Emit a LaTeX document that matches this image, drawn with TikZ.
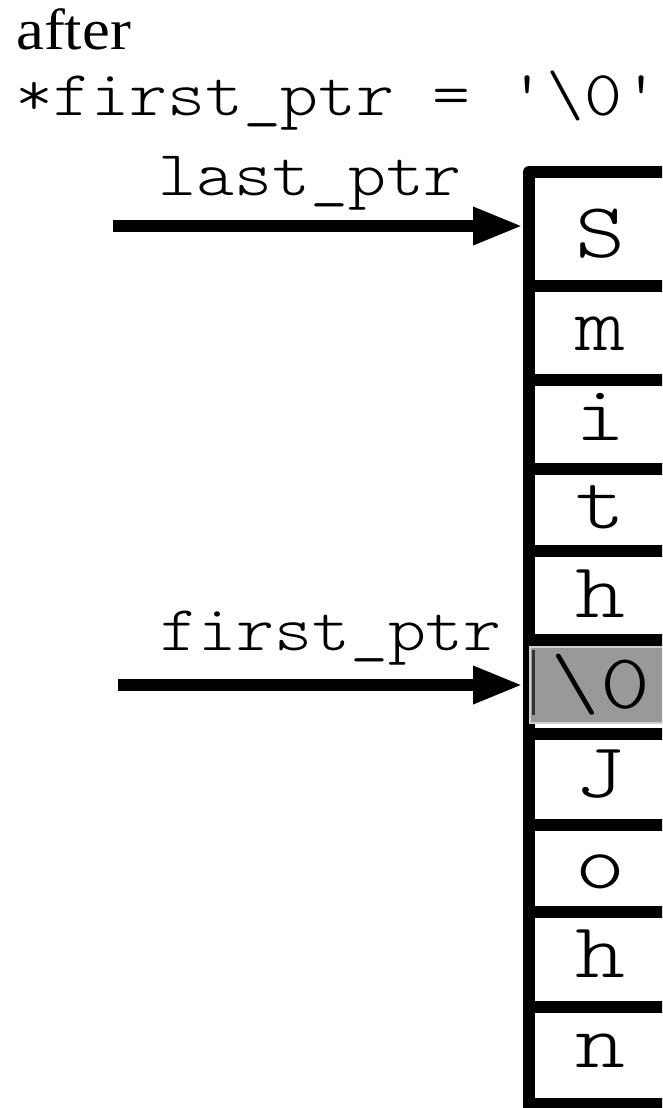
\documentclass[tikz,border=0pt]{standalone}
\usepackage{fontspec}
\setmainfont{Liberation Serif}
\newfontfamily\afterf[FakeStretch=1.08]{Liberation Serif}
\newfontfamily\monof[Ligatures=TeXOff,FakeStretch=1.13]{Latin Modern Mono Light}
\newfontfamily\cellf[Ligatures=TeXOff,FakeStretch=1.22]{Latin Modern Mono Light}
\usetikzlibrary{arrows.meta}
\definecolor{boxgray}{HTML}{999999}
\definecolor{boxedge}{HTML}{CFCFCF}
\definecolor{cursorgray}{HTML}{333333}
\begin{document}
\begin{tikzpicture}[x=1pt,y=-1pt,
  frame/.style={line width=12pt},
  ptr/.style={line width=12pt,-{Triangle[length=50pt,width=35pt]}},
  codetext/.style={font=\monof\fontsize{64}{70}\selectfont, inner sep=0pt, anchor=base west},
  letter/.style={font=\cellf\fontsize{78}{86}\selectfont, inner sep=0pt, anchor=base},
  rowcell/.style={minimum width=160pt, inner sep=0pt, anchor=north west}]

\path[use as bounding box] (0,0) rectangle (662,1108);
\clip (0,0) rectangle (662,1108);

% row cells (invisible) of the array
\foreach \i/\top/\bot in {1/172/286,2/286/380,3/380/469,4/469/551,5/551/640,
                          6/640/734,7/734/825,8/825/912,9/912/1007,10/1007/1104}
  \node[rowcell, minimum height={(\bot-\top)*1pt}] (row\i) at (523,\top) {};

% frame
\draw[frame, line join=round] (690,172) -- (529,172) -- (529,1115);
\foreach \y in {286,380,469,551,640,734,825,912,1007,1104}
  \draw[frame] (529,\y) -- (690,\y);

% highlighted cell (drawn over the frame)
\draw[fill=boxgray, draw=boxedge, line width=1.5pt] (530,647) rectangle (680,723);
\draw[cursorgray, line width=3pt] (533.5,650) -- (533.5,715);

% letters
\node[letter] (l1) at (600,257) {S};
\node[letter] (l2) at (600,350) {m};
\node[letter] (l3) at (600,440) {i};
\node[letter] (l4) at (600,528) {t};
\node[letter] (l5) at (600,617) {h};
\node[letter] (l6) at (600,708) {\textbackslash 0};
\node[letter] (l7) at (600,797) {J};
\node[letter] (l8) at (600,888) {o};
\node[letter] (l9) at (600,977) {h};
\node[letter] (l10) at (600,1067) {n};

% texts
\node[anchor=base west, inner sep=0pt, font=\afterf\fontsize{58}{64}\selectfont] (after) at (16,50) {after};
\node[codetext] (stmt) at (15,115) {*first\_ptr = '\textbackslash 0'};
\node[codetext] (lastlbl) at (158,195) {last\_ptr};
\node[codetext] (firstlbl) at (160,650) {first\_ptr};

% pointers
\coordinate (lastfrom) at (113,226);
\coordinate (firstfrom) at (118,685);
\draw[ptr] (lastfrom) -- (lastfrom -| row1.west);
\draw[ptr] (firstfrom) -- (firstfrom -| row6.west);
\end{tikzpicture}
\end{document}
